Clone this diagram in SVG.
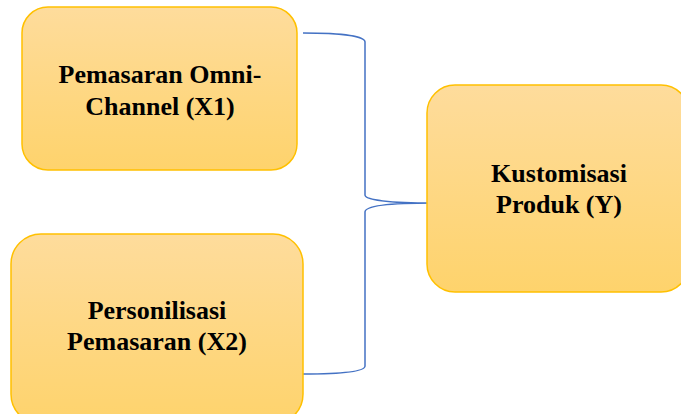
<svg xmlns="http://www.w3.org/2000/svg" width="681" height="414" viewBox="0 0 681 414">
<defs>
<linearGradient id="g" x1="0" y1="0" x2="0" y2="1">
<stop offset="0" stop-color="#FEDC9C"/>
<stop offset="1" stop-color="#FED36C"/>
</linearGradient>
</defs>
<style>
.box{fill:url(#g);stroke:#FFC000;stroke-width:1.5}
.t{font-family:"Liberation Serif","Times New Roman",serif;font-weight:bold;font-size:26px;fill:#000;text-anchor:middle}
.c{fill:none;stroke:#4472C4;stroke-width:1.5}
</style>
<g id="connectors">
<path class="c" d="M303,33 C340,33 365,36 365,42 L365,195 C365,200 390,203 433,203 C390,203 365,206 365,212 L365,366 C365,372 340,374 303,374"/>
</g>
<g id="x1">
<rect class="box" x="22" y="7" width="275" height="163" rx="26"/>
<text class="t" x="160" y="83">Pemasaran Omni-</text>
<text class="t" x="160" y="115">Channel (X1)</text>
</g>
<g id="x2">
<rect class="box" x="11" y="234" width="292" height="190" rx="30"/>
<text class="t" x="157" y="319">Personilisasi</text>
<text class="t" x="157" y="350">Pemasaran (X2)</text>
</g>
<g id="y">
<rect class="box" x="427" y="85" width="262" height="207" rx="28"/>
<text class="t" x="559" y="182">Kustomisasi</text>
<text class="t" x="559" y="213">Produk (Y)</text>
</g>
</svg>
